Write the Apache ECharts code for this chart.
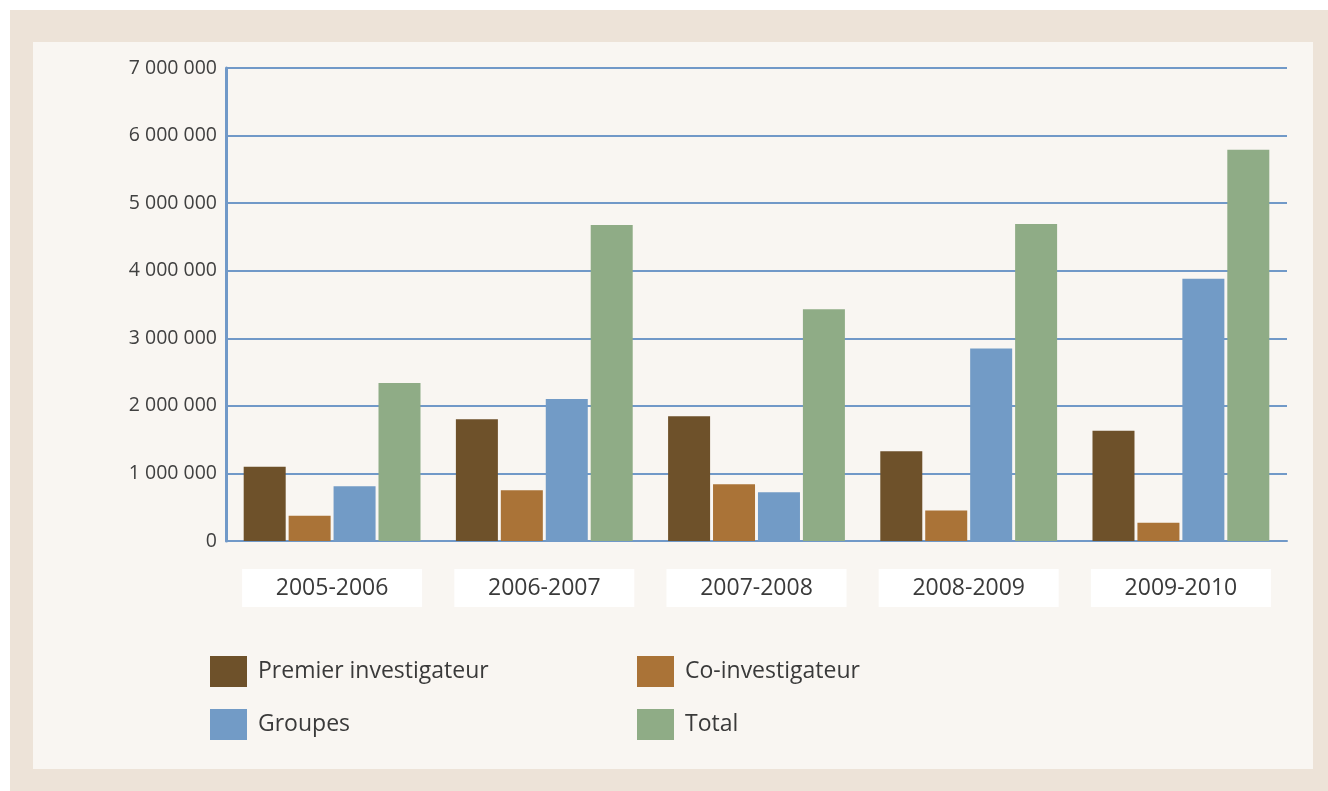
<!DOCTYPE html>
<html>
<head>
<meta charset="utf-8">
<script src="https://cdn.jsdelivr.net/npm/echarts@6/dist/echarts.min.js"></script>
<style>
  html, body { margin: 0; padding: 0; background: #ffffff; }
  #frame { position: absolute; left: 10px; top: 10px; width: 1318px; height: 781px; background: #ede3d8; }
  #panel { position: absolute; left: 33px; top: 42px; width: 1280px; height: 727px; background: #f9f6f2; }
  #chart { position: absolute; left: 0; top: 0; width: 1328px; height: 791px; }
</style>
</head>
<body>
<div id="frame"></div>
<div id="panel"></div>
<div id="chart"></div>
<script>
// Funding per fiscal year, by participation type
const years = ['2005-2006', '2006-2007', '2007-2008', '2008-2009', '2009-2010'];
const premierInvestigateur = [1100000, 1800000, 1845000, 1330000, 1630000];
const coInvestigateur = [375000, 750000, 840000, 450000, 270000];
const groupes = [810000, 2100000, 720000, 2850000, 3880000];
const total = [2340000, 4675000, 3430000, 4690000, 5790000];

const seriesNames = ['Premier investigateur', 'Co-investigateur', 'Groupes', 'Total'];
const seriesColors = ['#6e512a', '#aa7337', '#729bc6', '#8fac86'];
const seriesValues = [premierInvestigateur, coInvestigateur, groupes, total];

const gridBlue = '#7199c8';
const textDark = '#3a3a3a';
const font = '"Open Sans", "Noto Sans", sans-serif';

function spaced(v) {
  return String(v).replace(/\B(?=(\d{3})+(?!\d))/g, ' ');
}

const chart = echarts.init(document.getElementById('chart'), null, { renderer: 'canvas' });

const legendBase = {
  orient: 'vertical',
  itemWidth: 37,
  itemHeight: 31,
  itemGap: 22,
  icon: 'rect',
  selectedMode: false,
  textStyle: { fontFamily: font, fontSize: 23, color: textDark, padding: [0, 0, 0, 6] }
};

chart.setOption({
  backgroundColor: 'transparent',
  animation: false,
  grid: { left: 226, right: 41, top: 68, bottom: 250, containLabel: false },
  legend: [
    Object.assign({}, legendBase, { left: 205, top: 651, data: [seriesNames[0], seriesNames[2]] }),
    Object.assign({}, legendBase, { left: 632, top: 651, data: [seriesNames[1], seriesNames[3]] })
  ],
  xAxis: {
    type: 'category',
    data: years,
    axisTick: { show: false },
    axisLine: { show: true, lineStyle: { color: gridBlue, width: 2 } },
    axisLabel: {
      margin: 28,
      fontFamily: font,
      fontSize: 23,
      color: textDark,
      backgroundColor: '#ffffff',
      width: 180,
      height: 38,
      lineHeight: 38,
      align: 'center'
    }
  },
  yAxis: {
    type: 'value',
    min: 0,
    max: 7000000,
    interval: 1000000,
    axisLine: { show: true, lineStyle: { color: gridBlue, width: 3 } },
    axisTick: { show: false },
    splitLine: { show: true, lineStyle: { color: gridBlue, width: 2 } },
    axisLabel: {
      margin: 9,
      fontFamily: font,
      fontSize: 19.5,
      color: '#404040',
      formatter: spaced
    }
  },
  series: seriesNames.map((name, i) => ({
    name: name,
    type: 'bar',
    data: seriesValues[i],
    barWidth: 42,
    barGap: '7%',
    itemStyle: { color: seriesColors[i] },
    z: 3
  }))
});
</script>
</body>
</html>
